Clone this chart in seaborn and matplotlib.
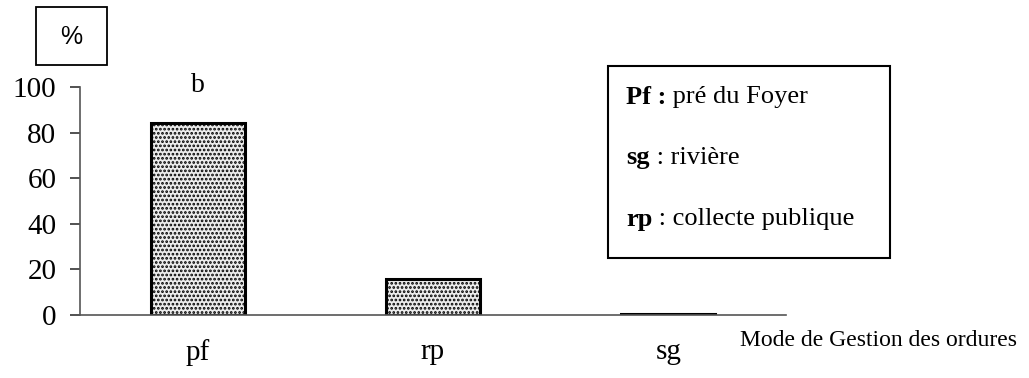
import matplotlib
matplotlib.use("Agg")
import matplotlib.pyplot as plt
import seaborn as sns
import pandas as pd
from matplotlib.patches import Rectangle

categories = ["pf", "rp", "sg"]
values = [84, 16, 0.5]
yticks = [0, 20, 40, 60, 80, 100]
annot_label = "b"
xlabel = "Mode de Gestion des ordures"
ylabel = "%"
legend_keys = ["Pf :", "sg", "rp"]
legend_desc = [" pré du Foyer", " : rivière", " : collecte publique"]

sns.set_theme(style="white")
plt.rcParams["font.family"] = ["Liberation Serif", "DejaVu Serif"]
plt.rcParams["text.color"] = "black"
plt.rcParams["xtick.color"] = "black"
plt.rcParams["ytick.color"] = "black"
plt.rcParams["hatch.linewidth"] = 1.3
plt.rcParams["hatch.color"] = "#555555"

W, H = 1029, 378
fig = plt.figure(figsize=(W / 100, H / 100), dpi=100)
ax = fig.add_axes([80 / W, 1 - 315 / H, (786 - 80) / W, (315 - 87) / H])

df = pd.DataFrame({"cat": categories, "val": values})
sns.barplot(data=df, x="cat", y="val", ax=ax, width=0.4, color="#ececec",
            edgecolor="black", linewidth=2.2, saturation=1)
for p in ax.patches:
    p.set_hatch("....")
    p.set_edgecolor("black")

ax.set_xlim(-0.5, 2.5)
ax.set_ylim(0, 100)
ax.set_yticks(yticks)
ax.set_yticklabels([str(t) for t in yticks], fontsize=21)
ax.set_xlabel("")
ax.set_ylabel("")
ax.set_xticks(range(len(categories)))
ax.set_xticklabels(categories, fontsize=21)
ax.set_xticks([-0.5, 0.5, 1.5, 2.5], minor=True)
ax.tick_params(axis="x", which="major", length=0, pad=17)
ax.tick_params(axis="x", which="minor", length=7, direction="out", color="#444444", width=1)
ax.tick_params(axis="y", length=7, direction="out", color="#333333", width=1.2, pad=10, left=True)
for s in ["top", "right"]:
    ax.spines[s].set_visible(False)
for s in ["left", "bottom"]:
    ax.spines[s].set_color("#555555")
    ax.spines[s].set_linewidth(1.2)

ax.text(0, 98, annot_label, ha="center", va="baseline", fontsize=20, clip_on=False)

fig.text(740 / W, 1 - 340 / H, xlabel, ha="left", va="center", fontsize=17)

# % box
fig.patches.append(Rectangle((36 / W, 1 - 65 / H), 71 / W, 58 / H, transform=fig.transFigure,
                             fill=False, edgecolor="black", linewidth=1.3))
fig.text(71 / W, 1 - 37 / H, ylabel, ha="center", va="center", fontsize=18,
         family=["Liberation Sans", "DejaVu Sans"])

# legend box
fig.patches.append(Rectangle((608 / W, 1 - 258 / H), 282 / W, 192 / H, transform=fig.transFigure,
                             fill=False, edgecolor="black", linewidth=1.5))
ys = [97, 158, 219]
for k, d, y in zip(legend_keys, legend_desc, ys):
    t = fig.text(626 / W, 1 - y / H, k, ha="left", va="center", fontsize=19, fontweight="bold")
    ax.annotate(d, xy=(1, 0.5), xycoords=t, ha="left", va="center", fontsize=19,
                annotation_clip=False)

fig.savefig("out.png", dpi=100)
